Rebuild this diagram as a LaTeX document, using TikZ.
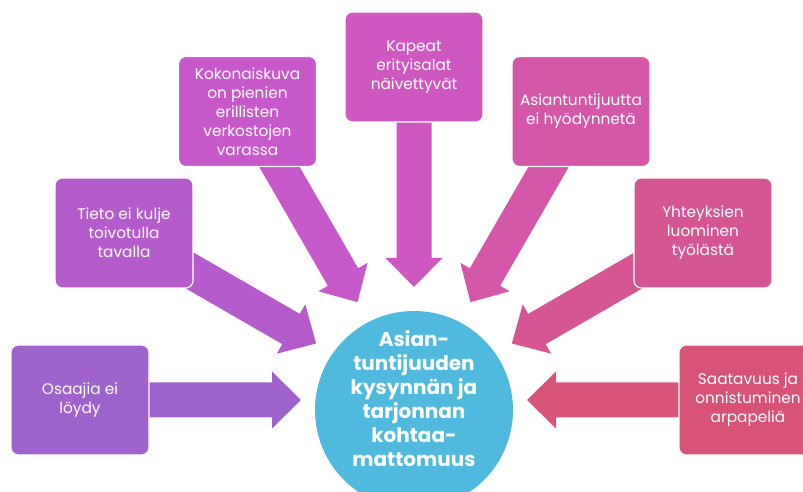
\documentclass[tikz,border=0pt]{standalone}
\usepackage{fontspec}
\setmainfont{Poppins}
\usetikzlibrary{calc}

\definecolor{cOne}{RGB}{160,98,204}
\definecolor{cTwo}{RGB}{180,92,203}
\definecolor{cThree}{RGB}{199,89,203}
\definecolor{cFour}{RGB}{207,88,192}
\definecolor{cFive}{RGB}{212,87,170}
\definecolor{cSix}{RGB}{214,85,147}
\definecolor{cSeven}{RGB}{215,84,120}
\definecolor{cHub}{RGB}{80,185,222}

% broad block arrow pointing at (focus), coming in from the given angle
% #1 angle, #2 outer end radius, #3 colour
\newcommand\fatarrow[3]{%
  \fill[#3, shift={(focus)}, rotate=#1]
    (113,0) -- (142,28.5) -- (142,17.5) -- (#2,17.5) -- (#2,-17.5)
    -- (142,-17.5) -- (142,-28.5) -- cycle;}

\begin{document}
\begin{tikzpicture}[x=0.75pt,y=0.75pt,
  card/.style={rounded corners=5.5pt, draw=white, line width=0.9pt,
    text=white, align=center, minimum width=103.5pt, minimum height=82.5pt,
    inner sep=2pt, font=\fontsize{11.5}{14.25}\selectfont},
  hubdisc/.style={circle, fill=cHub, minimum size=148.5pt, inner sep=0pt},
  hubtext/.style={text=white, align=center,
    font=\fontsize{15}{18}\selectfont\bfseries}]
\useasboundingbox (0,0) rectangle (803,492);
\clip (0,0) rectangle (803,492);

\coordinate (focus) at (414,92);

% arrows
\fatarrow{180}{265}{cOne}
\fatarrow{150}{270}{cTwo}
\fatarrow{120}{290}{cThree}
\fatarrow{90}{278}{cFour}
\fatarrow{60}{290}{cFive}
\fatarrow{30}{270}{cSix}
\fatarrow{0}{265}{cSeven}

% central disc
\node[hubdisc] (hub) at (414,82) {};
\node[hubtext] (hubtext) at (414,93)
  {Asian-\\tuntijuuden\\kysynnän ja\\tarjonnan\\kohtaa-\\mattomuus};

% cause boxes
\node[card, fill=cOne]   (b1) at (80,92)      {Osaajia ei\\löydy};
\node[card, fill=cTwo]   (b2) at (124,259)    {Tieto ei kulje\\toivotulla\\tavalla};
\node[card, fill=cThree] (b3) at (247.5,380.5) {Kokonaiskuva\\on pienien\\erillisten\\verkostojen\\varassa};
\node[card, fill=cFour]  (b4) at (414,425)    {Kapeat\\erityisalat\\näivettyvät};
\node[card, fill=cFive]  (b5) at (581,380.5)  {Asiantuntijuutta\\ei hyödynnetä};
\node[card, fill=cSix]   (b6) at (703,259)    {Yhteyksien\\luominen\\työlästä};
\node[card, fill=cSeven] (b7) at (748,92)     {Saatavuus ja\\onnistuminen\\arpapeliä};
\end{tikzpicture}
\end{document}
